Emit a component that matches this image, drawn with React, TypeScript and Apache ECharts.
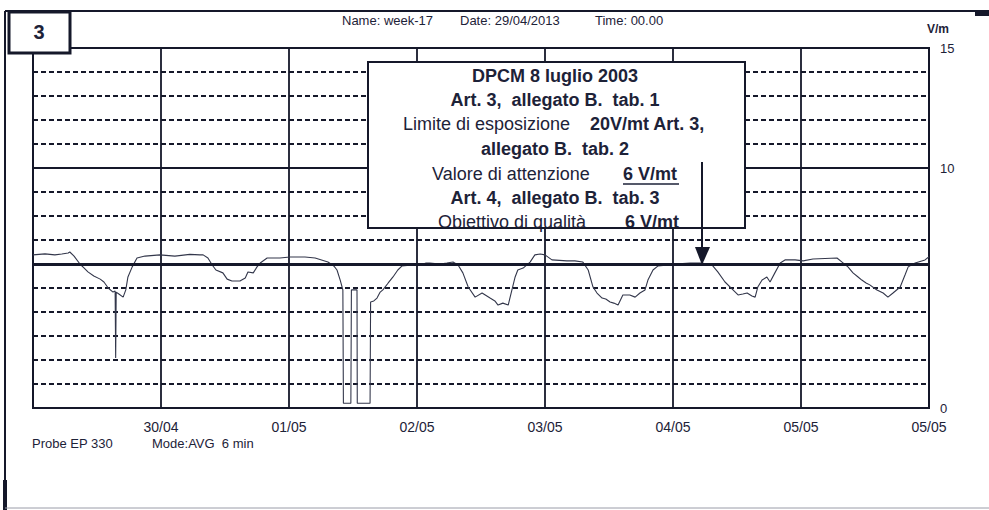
import React, { useEffect, useRef } from 'react';
import * as echarts from 'echarts';

// X axis: hours from 29/04/2013 00:00, one label per day gridline
const xTickLabels = ['', '30/04', '01/05', '02/05', '03/05', '04/05', '05/05', '05/05'];
// Y axis: only these values are labelled
const yTickLabels = [0, 10, 15];

const hours = [
  0, 2.25, 4.1, 5.4, 6.6, 6.9, 7.7, 8.8, 9.6, 10.3, 11.4, 12.6, 13.3, 14.1, 15.0, 15.4, 15.5, 15.6, 16.1, 16.9,
  17.4, 17.8, 18.6, 19.5, 21.0, 23.8, 26.6, 29.4, 31.3, 31.9, 32.8, 33.6, 34.3, 35.6, 36.4, 37.3, 38.8, 39.8, 40.3, 41.3,
  42.0, 42.6, 43.9, 46.3, 48.2, 51.0, 52.9, 55.3, 56.4, 57.0, 57.6, 58.1, 58.2, 59.6, 59.7, 60.75, 60.8, 63.2, 63.3, 63.9,
  64.5, 65.1, 65.6, 66.6, 67.5, 68.4, 69.2, 71.1, 72.6, 73.7, 74.4, 76.3, 77.6, 78.75, 79.7, 80.6, 81.6, 82.9, 84.2, 85.7,
  86.6, 87.2, 88.1, 89.1, 89.8, 90.4, 90.9, 91.9, 93.2, 94.1, 95.1, 96.0, 97.3, 100.1, 101.6, 103.1, 104.1, 105.0, 105.75, 106.7,
  107.4, 108.2, 108.9, 109.7, 110.6, 111.9, 112.9, 113.8, 114.75, 115.3, 116.25, 117.2, 119.1, 120.4, 123.2, 125.4, 127.3, 128.4, 129.75, 131.25,
  132.2, 133.1, 133.9, 134.8, 135.4, 135.9, 136.7, 137.6, 138.2, 139.1, 140.1, 141.0, 142.9, 144.4, 146.25, 148.5, 150.75, 151.7, 152.8, 153.75,
  154.7, 155.4, 156.2, 156.9, 157.7, 158.25, 159.4, 160.3, 161.25, 162.6, 163.5, 164.1, 165.4, 167.25, 168,
];

const fieldValues = [
  6.38, 6.42, 6.38, 6.42, 6.46, 6.5, 6.33, 6.0, 5.83, 5.67, 5.5, 5.37, 5.25, 5.0, 4.83, 4.87, 2.08, 4.83, 4.75, 4.62,
  4.92, 5.46, 5.88, 6.25, 6.33, 6.38, 6.33, 6.4, 6.38, 6.38, 6.25, 5.96, 5.75, 5.63, 5.37, 5.29, 5.29, 5.42, 5.67, 5.63,
  5.88, 6.04, 6.25, 6.25, 6.29, 6.29, 6.25, 6.08, 5.92, 5.75, 5.33, 4.92, 0.2, 0.2, 4.92, 4.92, 0.2, 0.2, 4.42, 4.46,
  4.58, 4.83, 4.92, 5.21, 5.46, 5.75, 5.92, 5.96, 5.96, 6.04, 6.04, 6.0, 6.04, 6.08, 5.96, 5.63, 5.04, 4.62, 4.79, 4.58,
  4.46, 4.29, 4.37, 4.29, 4.92, 5.46, 5.75, 5.83, 6.08, 6.38, 6.42, 6.38, 6.17, 6.13, 6.13, 6.08, 5.75, 5.04, 4.79, 4.58,
  4.54, 4.42, 4.37, 4.29, 4.71, 4.71, 4.62, 4.79, 4.92, 5.33, 5.75, 5.92, 5.96, 6.0, 6.04, 6.04, 5.96, 5.67, 5.25, 4.92,
  4.71, 4.75, 4.79, 4.67, 4.62, 5.04, 5.33, 5.46, 5.25, 5.63, 6.04, 6.17, 6.17, 6.13, 6.21, 6.23, 6.25, 6.08, 5.88, 5.63,
  5.46, 5.33, 5.21, 5.13, 5.0, 4.92, 4.79, 4.62, 4.79, 5.04, 5.54, 5.88, 6.04, 6.17, 6.3,
];

const attentionValue = 6;
const solidLevel = 10;

const FONT = "'Liberation Sans', Arial, sans-serif";
const INK = '#1d2238';

export default function App() {
  const ref = useRef<HTMLDivElement>(null);

  useEffect(() => {
    if (!ref.current) return;
    const chart = echarts.init(ref.current, undefined, { renderer: 'svg' });
    const data = hours.map((h, i) => [h, fieldValues[i]]);

    const boxText = (text: string, x: number, y: number, bold: boolean, align = 'center') => ({
      type: 'text',
      x,
      y,
      z: 110,
      style: {
        text,
        fill: INK,
        font: `${bold ? 'bold ' : ''}18px ${FONT}`,
        textAlign: align,
        textVerticalAlign: 'middle',
      },
    });

    chart.setOption({
      animation: false,
      backgroundColor: '#ffffff',
      grid: {
        left: 33,
        right: 60,
        top: 48,
        bottom: 102,
        show: true,
        borderColor: '#15182a',
        borderWidth: 2,
        backgroundColor: 'transparent',
      },
      xAxis: {
        type: 'value',
        min: 0,
        max: 168,
        interval: 24,
        axisLine: { show: false },
        axisTick: { show: false },
        splitLine: { show: true, lineStyle: { color: '#15182a', width: 1.8, type: 'solid' } },
        axisLabel: {
          show: true,
          margin: 12,
          color: INK,
          fontFamily: FONT,
          fontSize: 14,
          showMaxLabel: true,
          showMinLabel: true,
          formatter: (v: number) => xTickLabels[Math.round(v / 24)] ?? '',
        },
      },
      yAxis: {
        type: 'value',
        position: 'right',
        min: 0,
        max: 15,
        interval: 1,
        axisLine: { show: false },
        axisTick: { show: false },
        splitLine: { show: true, lineStyle: { color: '#15182a', width: 2, type: [5, 3] } },
        axisLabel: {
          show: true,
          margin: 11,
          color: INK,
          fontFamily: FONT,
          fontSize: 13,
          showMaxLabel: true,
          formatter: (v: number) => (yTickLabels.includes(v) ? String(v) : ''),
        },
      },
      series: [
        {
          type: 'line',
          data,
          showSymbol: false,
          symbol: 'none',
          lineStyle: { color: '#33374b', width: 1.1 },
          z: 3,
          markLine: {
            silent: true,
            symbol: 'none',
            label: { show: false },
            data: [
              { yAxis: solidLevel, lineStyle: { color: '#15182a', width: 1.8, type: 'solid' } },
              { yAxis: attentionValue, lineStyle: { color: '#15182a', width: 3, type: 'solid' } },
            ],
          },
        },
      ],
      graphic: [
        // outer frame
        { type: 'line', z: 50, shape: { x1: 5, y1: 11, x2: 989, y2: 11 }, style: { stroke: '#15182a', lineWidth: 2 } },
        { type: 'line', z: 50, shape: { x1: 5, y1: 11, x2: 5, y2: 510 }, style: { stroke: '#15182a', lineWidth: 2 } },
        { type: 'line', z: 50, shape: { x1: 5, y1: 480, x2: 5, y2: 510 }, style: { stroke: '#15182a', lineWidth: 4 } },
        { type: 'line', z: 50, shape: { x1: 5, y1: 508, x2: 989, y2: 508 }, style: { stroke: '#9a9ca8', lineWidth: 1 } },
        { type: 'rect', z: 50, shape: { x: 975, y: 10, width: 14, height: 6 }, style: { fill: '#15182a' } },
        // chart number box
        { type: 'rect', z: 60, shape: { x: 9, y: 12, width: 61, height: 41 }, style: { fill: '#ffffff', stroke: '#15182a', lineWidth: 3 } },
        {
          type: 'text', x: 39, y: 32, z: 61,
          style: { text: '3', fill: INK, font: `bold 20px ${FONT}`, textAlign: 'center', textVerticalAlign: 'middle' },
        },
        // header
        {
          type: 'text', x: 342, y: 20, z: 61,
          style: { text: 'Name: week-17', fill: INK, font: `13px ${FONT}`, textVerticalAlign: 'middle' },
        },
        {
          type: 'text', x: 460, y: 20, z: 61,
          style: { text: 'Date: 29/04/2013', fill: INK, font: `13px ${FONT}`, textVerticalAlign: 'middle' },
        },
        {
          type: 'text', x: 595, y: 20, z: 61,
          style: { text: 'Time: 00.00', fill: INK, font: `13px ${FONT}`, textVerticalAlign: 'middle' },
        },
        {
          type: 'text', x: 927, y: 29, z: 61,
          style: { text: 'V/m', fill: INK, font: `bold 12px ${FONT}`, textVerticalAlign: 'middle' },
        },
        // footer
        {
          type: 'text', x: 32, y: 443, z: 61,
          style: { text: 'Probe EP 330', fill: INK, font: `13px ${FONT}`, textVerticalAlign: 'middle' },
        },
        {
          type: 'text', x: 152, y: 443, z: 61,
          style: { text: 'Mode:AVG  6 min', fill: INK, font: `13px ${FONT}`, textVerticalAlign: 'middle' },
        },
        // annotation box
        { type: 'rect', z: 100, shape: { x: 368, y: 62, width: 377, height: 166 }, style: { fill: '#ffffff', stroke: '#15182a', lineWidth: 2 } },
        boxText('DPCM 8 luglio 2003', 555, 76, true),
        boxText('Art. 3,  allegato B.  tab. 1', 555, 100, true),
        boxText('Limite di esposizione', 403, 124, false, 'left'),
        boxText('20V/mt Art. 3,', 590, 124, true, 'left'),
        boxText('allegato B.  tab. 2', 555, 149, true),
        boxText('Valore di attenzione', 432, 174, false, 'left'),
        boxText('6 V/mt', 623, 174, true, 'left'),
        { type: 'line', z: 111, shape: { x1: 623, y1: 184, x2: 679, y2: 184 }, style: { stroke: INK, lineWidth: 1.5 } },
        boxText('Art. 4,  allegato B.  tab. 3', 555, 198, true),
        boxText('Obiettivo di qualità', 438, 222, false, 'left'),
        boxText('6 V/mt', 625, 222, true, 'left'),
        { type: 'line', z: 112, shape: { x1: 369, y1: 228, x2: 744, y2: 228 }, style: { stroke: '#15182a', lineWidth: 2 } },
        // arrow
        { type: 'line', z: 112, shape: { x1: 702, y1: 162, x2: 702, y2: 250 }, style: { stroke: '#15182a', lineWidth: 2 } },
        { type: 'polygon', z: 112, shape: { points: [[695, 247], [710, 247], [702, 265]] }, style: { fill: '#15182a' } },
      ],
    });

    return () => chart.dispose();
  }, []);

  return (
    <div
      ref={ref}
      style={{ position: 'fixed', left: 0, top: 0, width: 989, height: 510, background: '#ffffff' }}
    />
  );
}
